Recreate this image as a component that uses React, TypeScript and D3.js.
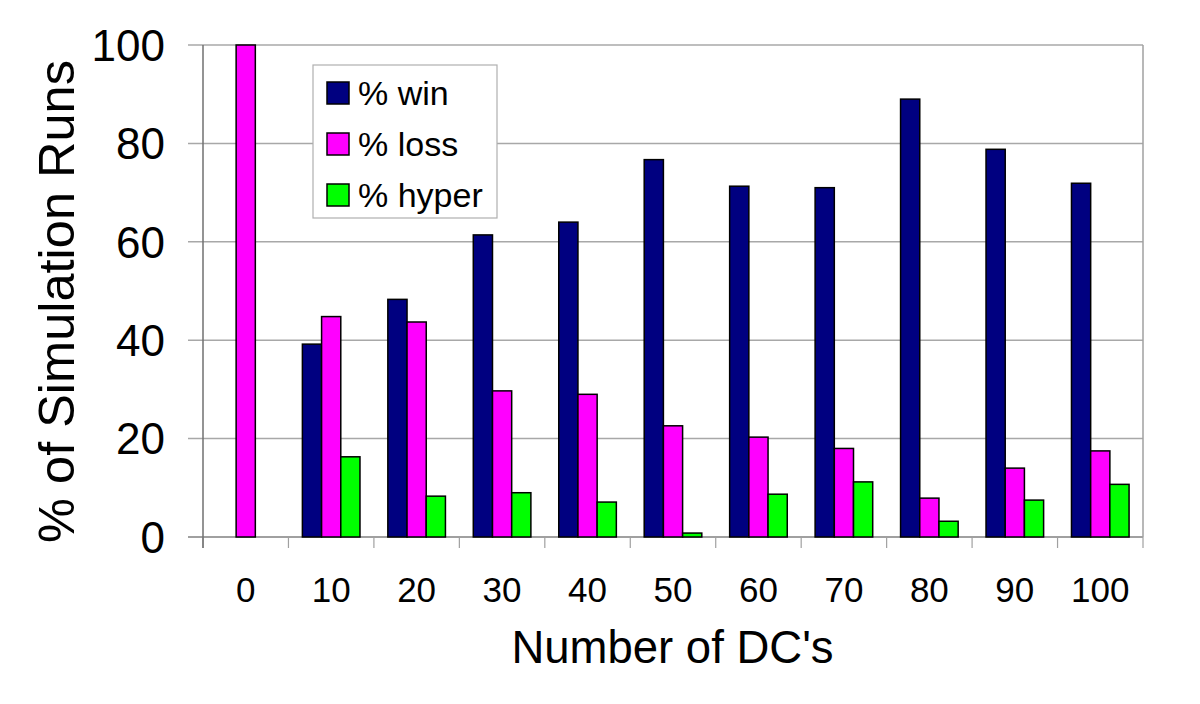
import React from "react";
import * as d3 from "d3";

const categories = ["0", "10", "20", "30", "40", "50", "60", "70", "80", "90", "100"];
const winValues = [0, 39.2, 48.3, 61.4, 64.0, 76.7, 71.3, 71.0, 89.0, 78.8, 71.9];
const lossValues = [100, 44.8, 43.7, 29.7, 29.0, 22.6, 20.3, 18.0, 7.9, 14.0, 17.5];
const hyperValues = [0, 16.3, 8.3, 9.0, 7.1, 0.8, 8.7, 11.2, 3.2, 7.5, 10.7];
const seriesNames = ["% win", "% loss", "% hyper"];
const seriesColors = ["#000080", "#FF00FF", "#00FF00"];
const yTicks = [0, 20, 40, 60, 80, 100];

const W = 1200;
const H = 704;
const left = 203;
const right = 1143;
const top = 45;
const bottom = 537;
const FONT = "'Liberation Sans', Arial, Helvetica, sans-serif";

export default function App() {
  const series = [winValues, lossValues, hyperValues];
  const x = d3
    .scaleBand<string>()
    .domain(categories)
    .range([left, right])
    .paddingInner(0.326)
    .paddingOuter(0.163);
  const xs = d3
    .scaleBand<string>()
    .domain(seriesNames)
    .range([0, x.bandwidth()]);
  const y = d3.scaleLinear().domain([0, 100]).range([bottom, top]);
  const step = x.step();

  return (
    <svg
      width={W}
      height={H}
      style={{ position: "absolute", left: 0, top: 0, background: "#fff" }}
      fontFamily={FONT}
    >
      <rect x={0} y={0} width={W} height={H} fill="#fff" />
      {/* gridlines */}
      {yTicks.map((t) => (
        <line
          key={"g" + t}
          x1={left - 15}
          x2={right}
          y1={y(t)}
          y2={y(t)}
          stroke={t === 0 ? "#808080" : "#a8a8a8"}
          strokeWidth={1.5}
        />
      ))}
      {/* right border */}
      <line x1={right} x2={right} y1={top} y2={bottom} stroke="#a0a0a0" strokeWidth={1.5} />
      {/* x ticks */}
      {d3.range(categories.length + 1).map((i) => (
        <line
          key={"xt" + i}
          x1={left + i * step}
          x2={left + i * step}
          y1={bottom}
          y2={bottom + 11}
          stroke="#a0a0a0"
          strokeWidth={1.2}
        />
      ))}
      {/* bars */}
      {series.map((vals, si) =>
        vals.map((v, ci) =>
          v > 0 ? (
            <rect
              key={`b${si}-${ci}`}
              x={(x(categories[ci]) as number) + (xs(seriesNames[si]) as number)}
              y={y(v)}
              width={xs.bandwidth()}
              height={y(0) - y(v)}
              fill={seriesColors[si]}
              stroke="#000"
              strokeWidth={1.5}
            />
          ) : null
        )
      )}
      {/* left axis */}
      <line x1={left} x2={left} y1={top} y2={bottom + 11} stroke="#707070" strokeWidth={1.5} />
      {/* y tick labels */}
      {yTicks.map((t) => (
        <text
          key={"yl" + t}
          x={165}
          y={y(t)}
          dy="0.36em"
          textAnchor="end"
          fontSize={44}
          fill="#000"
        >
          {t}
        </text>
      ))}
      {/* x tick labels */}
      {categories.map((c) => (
        <text
          key={"xl" + c}
          x={(x(c) as number) + x.bandwidth() / 2}
          y={602}
          textAnchor="middle"
          fontSize={35}
          fill="#000"
        >
          {c}
        </text>
      ))}
      {/* axis titles */}
      <text x={672.5} y={663} textAnchor="middle" fontSize={45.5} fill="#000">
        Number of DC's
      </text>
      <text
        transform={`translate(74, 301.5) rotate(-90)`}
        textAnchor="middle"
        fontSize={50.5}
        fill="#000"
      >
        % of Simulation Runs
      </text>
      {/* legend */}
      <rect x={313} y={65} width={184} height={153} fill="#fff" stroke="#b0b0b0" strokeWidth={1.2} />
      {seriesNames.map((n, i) => (
        <g key={"lg" + i} transform={`translate(327, ${82 + i * 51})`}>
          <rect width={22} height={22} fill={seriesColors[i]} stroke="#000" strokeWidth={1.5} />
          <text x={31} y={11} dy="0.36em" fontSize={34} fill="#000">
            {n}
          </text>
        </g>
      ))}
    </svg>
  );
}
